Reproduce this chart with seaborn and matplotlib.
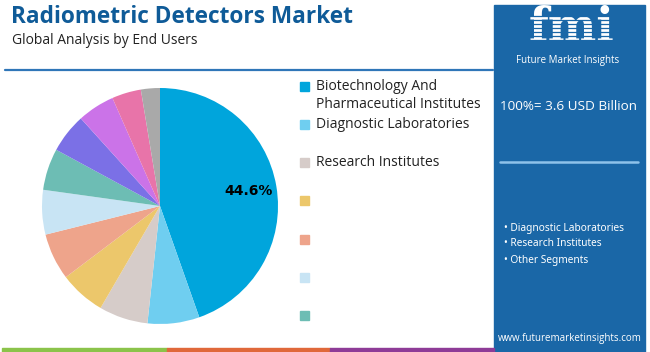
import seaborn as sns
import matplotlib
matplotlib.use("Agg")
from matplotlib import pyplot as plt
from matplotlib.patches import Rectangle

# segment shares (%), clockwise from 12 o'clock
segments = ['Biotechnology And\nPharmaceutical Institutes', 'Diagnostic Laboratories',
            'Research Institutes', '', '', '', '', '', '', '', '']
shares = [44.6, 7.1, 6.7, 6.3, 6.4, 6.1, 5.7, 5.4, 5.1, 4.0, 2.6]
colors = ['#00A5DC', '#6FCEF0', '#D6CCC9', '#ECC76B', '#EEA48B', '#C8E4F4',
          '#6DBDB4', '#7B70E6', '#CB73E8', '#E874A9', '#A9A9A9']
n_legend = 7

total_label = '100%= 3.6 USD Billion'
side_bullets = ['• Diagnostic Laboratories', '• Research Institutes', '• Other Segments']

sns.set_theme(style="white")
plt.rcParams['font.family'] = ['Open Sans', 'DejaVu Sans']

W, H = 650, 352
fig = plt.figure(figsize=(W / 100, H / 100), dpi=100)


def fx(x):
    return x / W


def fy(y):
    return 1 - y / H


# pie
cx, cy, r = 160, 206, 118
ax = fig.add_axes([fx(cx - r), fy(cy + r), 2 * r / W, 2 * r / H])
pal = sns.color_palette(colors)
wedges, _, autotexts = ax.pie(
    shares, colors=pal, startangle=90, counterclock=False,
    autopct=lambda p: f'{p:.1f}%' if p > 40 else '', pctdistance=0.76,
    wedgeprops=dict(linewidth=0),
    textprops=dict(fontsize=10, fontweight='bold', color='black', family='DejaVu Sans'))
ax.set_xlim(-1, 1)
ax.set_ylim(-1, 1)
ax.set_aspect('auto')
ax.axis('off')

# legend (squares with labels)
for i in range(n_legend):
    y = 86 + i * 38.3
    fig.patches.append(Rectangle((fx(300), fy(y + 4.5)), 9 / W, 9 / H,
                                 transform=fig.transFigure, color=colors[i]))
    if segments[i]:
        fig.text(fx(316), fy(y - 7.5), segments[i], fontsize=10, color='#222222',
                 va='top', ha='left', linespacing=1.35)

# title
fig.text(fx(11), fy(17), 'Radiometric Detectors Market', fontsize=16.3, fontweight='bold',
         color='#0F5B98', va='center', ha='left')
fig.text(fx(12), fy(40), 'Global Analysis by End Users', fontsize=10, color='#222222',
         va='center', ha='left')
fig.add_artist(plt.Line2D([fx(5), fx(493)], [fy(69.5), fy(69.5)], color='#2F76B8',
                          linewidth=1.6, transform=fig.transFigure))

# right panel
panel = '#1A67A7'
fig.patches.append(Rectangle((fx(494), 0), 151 / W, fy(5), transform=fig.transFigure,
                             color=panel))
fig.text(fx(571), fy(28), 'fmi', fontsize=33, fontweight='bold', color='white',
         ha='center', va='center', family='DejaVu Serif', zorder=3)
for sy in range(16, 48, 4):
    fig.add_artist(plt.Line2D([fx(512), fx(632)], [fy(sy), fy(sy)], color=panel,
                              linewidth=0.9, transform=fig.transFigure, zorder=4))
fig.text(fx(568), fy(61), 'Future Market Insights', fontsize=7, color='white',
         ha='center', va='center')
fig.text(fx(569), fy(106), total_label, fontsize=9.7, color='white',
         ha='center', va='center')
fig.add_artist(plt.Line2D([fx(500), fx(638)], [fy(162), fy(162)], color='#8EC2EA',
                          linewidth=1.8, transform=fig.transFigure))
for i, b in enumerate(side_bullets):
    yy = [229, 243, 260][i]
    fig.text(fx(504), fy(yy), b, fontsize=7.3, color='white', ha='left', va='center',
             family=['Noto Sans', 'DejaVu Sans'])
fig.text(fx(570), fy(338), 'www.futuremarketinsights.com', fontsize=7, color='white',
         ha='center', va='center')

# bottom colour strip
for x0, x1, c in [(2, 167, '#8BC34A'), (167, 330, '#E0683A'), (330, 494, '#8E3B97')]:
    fig.patches.append(Rectangle((fx(x0), 0), (x1 - x0) / W, 4 / H,
                                 transform=fig.transFigure, color=c))

fig.savefig('out.png', dpi=100)
